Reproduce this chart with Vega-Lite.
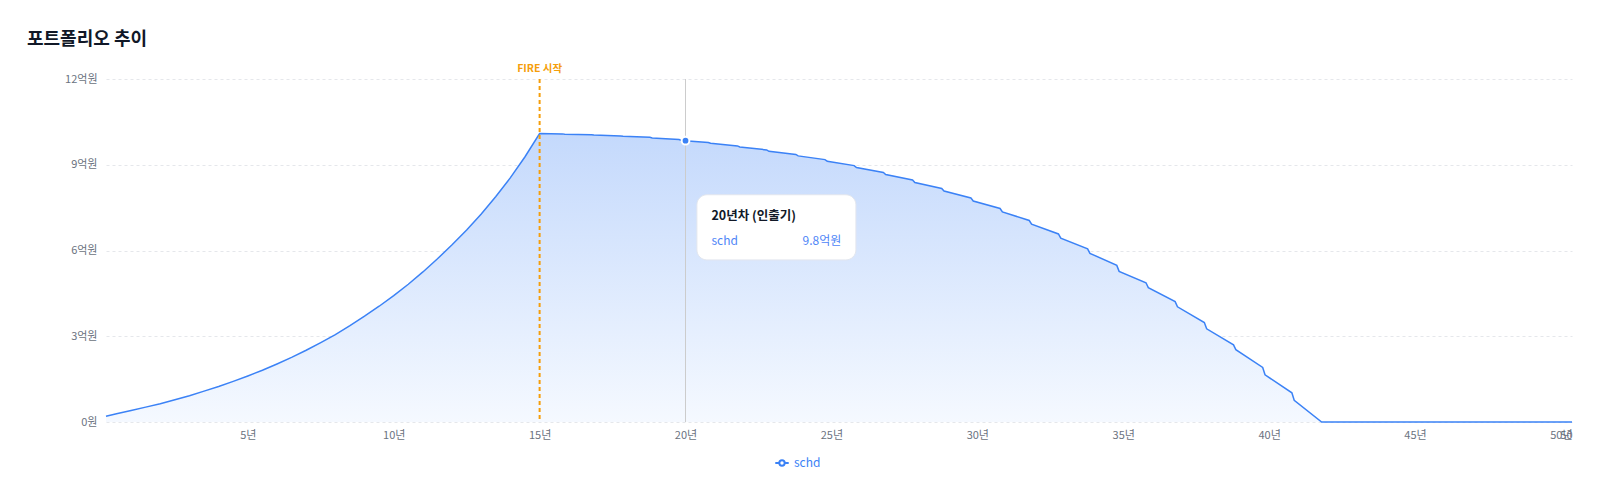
{
  "$schema": "https://vega.github.io/schema/vega-lite/v6.json",
  "autosize": {"type": "none"},
  "width": 1466,
  "height": 343,
  "padding": {"left": 106, "top": 79, "right": 29, "bottom": 74},
  "background": "#ffffff",
  "config": {"font": "Noto Sans CJK KR", "view": {"stroke": null}},
  "title": {
    "text": "포트폴리오 추이",
    "anchor": "start",
    "frame": "group",
    "fontSize": 18,
    "fontWeight": "bold",
    "color": "#111827",
    "font": "Noto Sans CJK KR",
    "dx": -79,
    "offset": 15
  },
  "datasets": {
    "series": [
      {"year": 0.14, "value": 0.2},
      {"year": 0.5, "value": 0.29},
      {"year": 1, "value": 0.4},
      {"year": 1.5, "value": 0.52},
      {"year": 2, "value": 0.64},
      {"year": 2.5, "value": 0.78},
      {"year": 3, "value": 0.92},
      {"year": 3.5, "value": 1.08},
      {"year": 4, "value": 1.24},
      {"year": 4.5, "value": 1.42},
      {"year": 5, "value": 1.61},
      {"year": 5.5, "value": 1.81},
      {"year": 6, "value": 2.03},
      {"year": 6.5, "value": 2.26},
      {"year": 7, "value": 2.51},
      {"year": 7.5, "value": 2.78},
      {"year": 8, "value": 3.06},
      {"year": 8.5, "value": 3.37},
      {"year": 9, "value": 3.7},
      {"year": 9.5, "value": 4.05},
      {"year": 10, "value": 4.42},
      {"year": 10.5, "value": 4.82},
      {"year": 11, "value": 5.25},
      {"year": 11.5, "value": 5.71},
      {"year": 12, "value": 6.2},
      {"year": 12.5, "value": 6.72},
      {"year": 13, "value": 7.28},
      {"year": 13.5, "value": 7.89},
      {"year": 14, "value": 8.55},
      {"year": 14.5, "value": 9.28},
      {"year": 15, "value": 10.09},
      {"year": 15.78, "value": 10.08},
      {"year": 15.86, "value": 10.07},
      {"year": 16.78, "value": 10.05},
      {"year": 16.86, "value": 10.04},
      {"year": 17.78, "value": 10.01},
      {"year": 17.86, "value": 10.0},
      {"year": 18.78, "value": 9.96},
      {"year": 18.86, "value": 9.94},
      {"year": 19.78, "value": 9.88},
      {"year": 19.86, "value": 9.85},
      {"year": 20.78, "value": 9.78},
      {"year": 20.86, "value": 9.75},
      {"year": 21.78, "value": 9.66},
      {"year": 21.86, "value": 9.62},
      {"year": 22.78, "value": 9.52},
      {"year": 22.86, "value": 9.47},
      {"year": 23.78, "value": 9.36},
      {"year": 23.86, "value": 9.31},
      {"year": 24.78, "value": 9.18},
      {"year": 24.86, "value": 9.12},
      {"year": 25.78, "value": 8.97},
      {"year": 25.86, "value": 8.9},
      {"year": 26.78, "value": 8.73},
      {"year": 26.86, "value": 8.66},
      {"year": 27.78, "value": 8.47},
      {"year": 27.86, "value": 8.38},
      {"year": 28.78, "value": 8.17},
      {"year": 28.86, "value": 8.08},
      {"year": 29.78, "value": 7.84},
      {"year": 29.86, "value": 7.73},
      {"year": 30.78, "value": 7.47},
      {"year": 30.86, "value": 7.35},
      {"year": 31.78, "value": 7.05},
      {"year": 31.86, "value": 6.92},
      {"year": 32.78, "value": 6.58},
      {"year": 32.86, "value": 6.43},
      {"year": 33.78, "value": 6.06},
      {"year": 33.86, "value": 5.9},
      {"year": 34.78, "value": 5.48},
      {"year": 34.86, "value": 5.27},
      {"year": 35.78, "value": 4.87},
      {"year": 35.86, "value": 4.7},
      {"year": 36.78, "value": 4.21},
      {"year": 36.86, "value": 4.03},
      {"year": 37.78, "value": 3.48},
      {"year": 37.86, "value": 3.26},
      {"year": 38.78, "value": 2.7},
      {"year": 38.86, "value": 2.53},
      {"year": 39.78, "value": 1.91},
      {"year": 39.86, "value": 1.65},
      {"year": 40.78, "value": 1.02},
      {"year": 40.86, "value": 0.76},
      {"year": 41.8, "value": 0},
      {"year": 50.38, "value": 0}
    ],
    "fire": [{"year": 15, "value": 12, "label": "FIRE 시작"}],
    "cursor": [{"year": 20, "value": 9.84}],
    "tipbox": [{"year": 20.39, "year2": 25.84, "value": 7.95, "value2": 5.67}],
    "tiptitle": [{"year": 20.89, "value": 7.2, "label": "20년차 (인출기)"}],
    "tipname": [{"year": 20.89, "value": 6.34, "label": "schd"}],
    "tipvalue": [{"year": 25.34, "value": 6.34, "label": "9.8억원"}]
  },
  "layer": [
    {
      "data": {"name": "series"},
      "mark": {
        "type": "area",
        "color": {
          "gradient": "linear",
          "x1": 0, "y1": 0, "x2": 0, "y2": 1,
          "stops": [
            {"offset": 0, "color": "#c4d9fc"},
            {"offset": 1, "color": "#f5f9ff"}
          ]
        }
      },
      "encoding": {
        "x": {
          "field": "year",
          "type": "quantitative",
          "title": null,
          "scale": {"domain": [0.14, 50.38], "nice": false, "zero": false},
          "axis": {
            "values": [5, 10, 15, 20, 25, 30, 35, 40, 45, 50, 50.38],
            "labelExpr": "datum.value > 50.1 ? '50' : datum.value + '년'",
            "labelFlush": true,
            "labelOverlap": false,
            "grid": false,
            "domain": false,
            "ticks": false,
            "labelPadding": 7,
            "labelColor": "#6b7280",
            "labelFontSize": 11
          }
        },
        "y": {
          "field": "value",
          "type": "quantitative",
          "title": null,
          "scale": {"domain": [0, 12], "nice": false},
          "axis": {
            "values": [0, 3, 6, 9, 12],
            "labelExpr": "datum.value == 0 ? '0원' : datum.value + '억원'",
            "grid": true,
            "gridDash": [3, 3],
            "gridColor": "#e5e7eb",
            "domain": false,
            "ticks": false,
            "labelPadding": 9,
            "labelColor": "#6b7280",
            "labelFontSize": 11
          }
        }
      }
    },
    {
      "data": {"name": "series"},
      "mark": {"type": "line", "strokeWidth": 1.5},
      "encoding": {
        "x": {"field": "year", "type": "quantitative", "title": null},
        "y": {"field": "value", "type": "quantitative", "title": null},
        "color": {
          "datum": "schd",
          "scale": {"range": ["#3b82f6"]},
          "legend": {
            "orient": "none",
            "legendX": 668,
            "legendY": 376,
            "direction": "horizontal",
            "title": null,
            "symbolType": "M-1,0L-0.4,0M0.4,0L1,0M-0.4,0A0.4,0.4,0,1,1,0.4,0A0.4,0.4,0,1,1,-0.4,0",
            "symbolSize": 180,
            "symbolStrokeWidth": 2,
            "symbolFillColor": "#ffffff",
            "symbolStrokeColor": "#3b82f6",
            "labelColor": "#3b82f6",
            "labelFontSize": 12,
            "labelOffset": 4
          }
        }
      }
    },
    {
      "data": {"name": "cursor"},
      "mark": {"type": "rule", "color": "#cccccc", "strokeWidth": 1},
      "encoding": {"x": {"field": "year", "type": "quantitative", "title": null}}
    },
    {
      "data": {"name": "fire"},
      "mark": {"type": "rule", "color": "#f59e0b", "strokeWidth": 2, "strokeDash": [4, 3]},
      "encoding": {"x": {"field": "year", "type": "quantitative", "title": null}}
    },
    {
      "data": {"name": "fire"},
      "mark": {"type": "text", "color": "#f59e0b", "fontSize": 10.5, "fontWeight": "bold", "dy": -10, "baseline": "middle", "align": "center", "clip": false},
      "encoding": {
        "x": {"field": "year", "type": "quantitative", "title": null},
        "y": {"field": "value", "type": "quantitative", "title": null},
        "text": {"field": "label"}
      }
    },
    {
      "data": {"name": "cursor"},
      "mark": {"type": "point", "shape": "circle", "filled": true, "fill": "#3b82f6", "stroke": "#ffffff", "strokeWidth": 2, "size": 60, "opacity": 1},
      "encoding": {
        "x": {"field": "year", "type": "quantitative", "title": null},
        "y": {"field": "value", "type": "quantitative", "title": null}
      }
    },
    {
      "data": {"name": "tipbox"},
      "mark": {"type": "rect", "fill": "#ffffff", "stroke": "#e2e6ee", "strokeWidth": 1, "cornerRadius": 10},
      "encoding": {
        "x": {"field": "year", "type": "quantitative", "title": null},
        "x2": {"field": "year2"},
        "y": {"field": "value", "type": "quantitative", "title": null},
        "y2": {"field": "value2"}
      }
    },
    {
      "data": {"name": "tiptitle"},
      "mark": {"type": "text", "align": "left", "baseline": "middle", "fontSize": 12.5, "fontWeight": "bold", "color": "#111827"},
      "encoding": {
        "x": {"field": "year", "type": "quantitative", "title": null},
        "y": {"field": "value", "type": "quantitative", "title": null},
        "text": {"field": "label"}
      }
    },
    {
      "data": {"name": "tipname"},
      "mark": {"type": "text", "align": "left", "baseline": "middle", "fontSize": 12, "color": "#4f86f7"},
      "encoding": {
        "x": {"field": "year", "type": "quantitative", "title": null},
        "y": {"field": "value", "type": "quantitative", "title": null},
        "text": {"field": "label"}
      }
    },
    {
      "data": {"name": "tipvalue"},
      "mark": {"type": "text", "align": "right", "baseline": "middle", "fontSize": 12, "color": "#4f86f7"},
      "encoding": {
        "x": {"field": "year", "type": "quantitative", "title": null},
        "y": {"field": "value", "type": "quantitative", "title": null},
        "text": {"field": "label"}
      }
    }
  ]
}
